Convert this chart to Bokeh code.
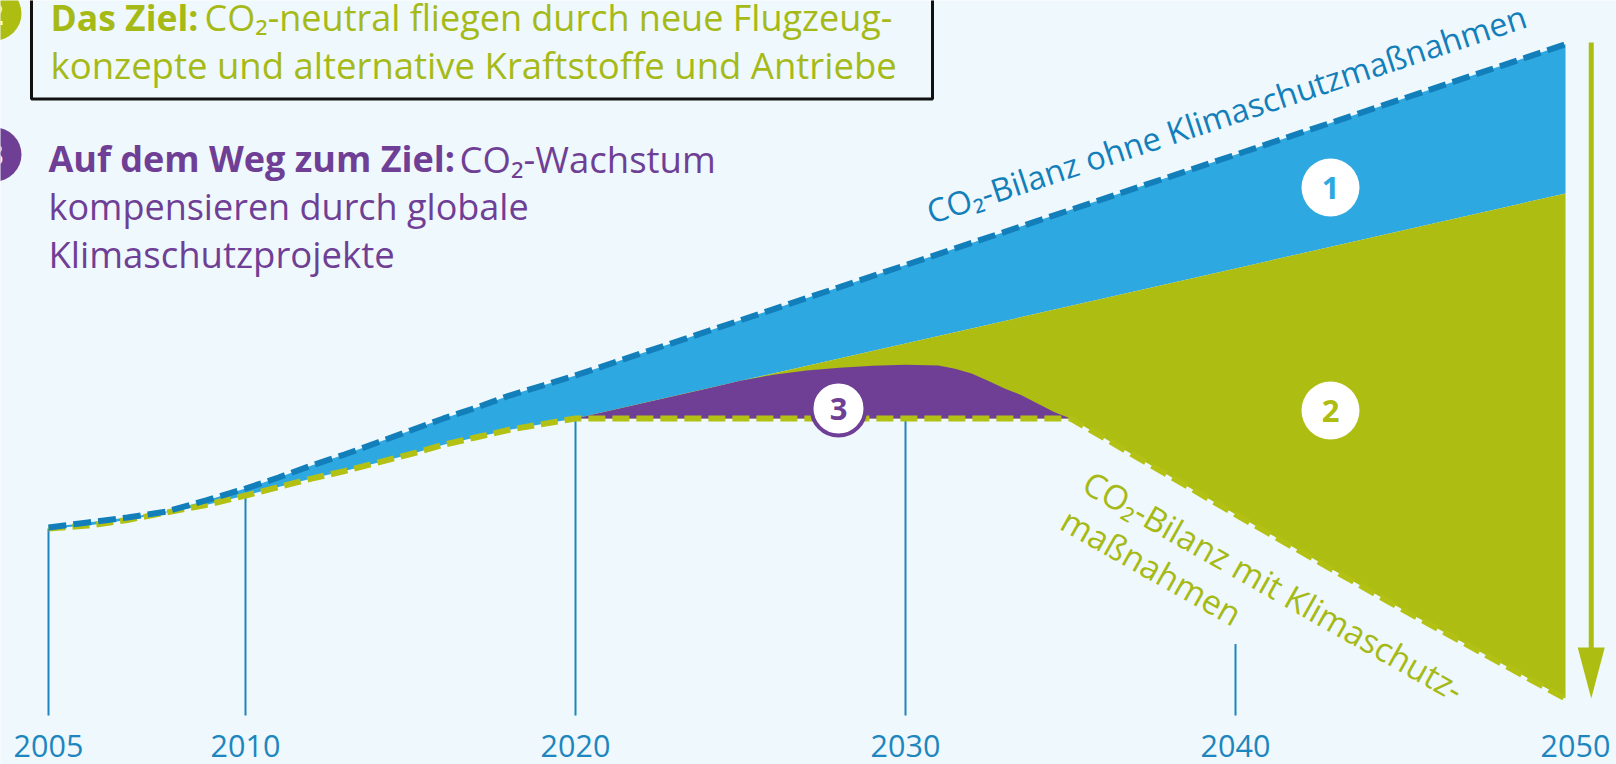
import numpy as np
from bokeh.plotting import figure
from bokeh.models import Range1d, Label, BoxAnnotation
from bokeh.core.properties import value
from bokeh.embed import file_html
from bokeh.resources import INLINE

# ---------------- data (relative CO2 index, 2005 = 100) ----------------
line_years = [2005, 2006, 2007, 2008, 2009, 2010, 2011, 2012, 2013, 2014,
              2015, 2016, 2017, 2018, 2019, 2020, 2030, 2040, 2050]
co2_without = [100, 102.7, 105.3, 108.5, 114.4, 120.7, 126.6, 133.0, 138.8, 145.2,
               151.6, 158.0, 163.8, 170.2, 175.5, 180.9, 239.6, 298.3, 357.0]

with_years = [2005, 2006, 2007, 2008, 2009, 2010, 2011, 2012, 2013, 2014,
              2015, 2016, 2017, 2018, 2019, 2020, 2035, 2040, 2045, 2050]
co2_with = [99.5, 101, 104, 108, 112, 117, 121.5, 126, 130, 134.5,
            139, 144, 148, 152, 155, 158, 158, 107, 57, 9]

split_years = [2020, 2050]          # border between area 1 and area 2
split_values = [158, 277.7]

comp_years = [2020, 2022, 2024, 2025, 2026, 2027, 2028, 2029, 2030, 2031, 2031.5,
              2032, 2032.5, 2033, 2033.5, 2034, 2034.5, 2035]
comp_top = [158, 166, 174, 178, 181.3, 183.5, 185, 186, 186.6, 186.2, 184.5,
            181.9, 178, 174, 170.5, 166, 161.5, 158]

tick_years = [2005, 2010, 2020, 2030, 2040]
tick_tops = [99.5, 117, 158, 157, 38]
label_years = [2005, 2010, 2020, 2030, 2040, 2050]
tick_labels = ["2005", "2010", "2020", "2030", "2040", "2050"]

# ---------------- styling ----------------
BG = "#eff8fc"
BLUE_FILL = "#2ea8e0"
BLUE_LINE = "#137fba"
GREEN_FILL = "#adbd12"
GREEN_LINE = "#b2c114"
GREEN_TXT = "#a6ba17"
PURPLE = "#6f3f96"
TICK = "#1d86be"
FONT = "Open Sans"

W, H = 1616, 764
PX_PER_YEAR = 33.0
UNIT_PX = 1.88
BASE_PX = 715       # page y of value 0
X_START = 2010 - 245 / PX_PER_YEAR
X_END = X_START + W / PX_PER_YEAR
Y_END = BASE_PX / UNIT_PX
Y_START = Y_END - H / UNIT_PX


def px_x(px):
    return X_START + px / PX_PER_YEAR


def px_y(py):
    return Y_END - py / UNIT_PX


def axis_pos(years):
    # the 2005-2010 span of the axis is drawn slightly wider than later spans
    return list(np.interp(years, [2005, 2010, 2050], [px_x(48), 2010, 2050]))


p = figure(width=W, height=H, x_range=Range1d(X_START, X_END),
           y_range=Range1d(Y_START, Y_END), output_backend="svg",
           toolbar_location=None, min_border=0, x_axis_location=None,
           y_axis_location=None, background_fill_color=BG,
           border_fill_color=BG, outline_line_color=None)
p.grid.visible = False

# ---- area 1 (blue) ----
n_hist = with_years.index(2020) + 1
blue_x = line_years + split_years[::-1] + with_years[:n_hist][::-1]
blue_y = co2_without + split_values[::-1] + co2_with[:n_hist][::-1]
p.patch(axis_pos(blue_x), blue_y, fill_color=BLUE_FILL, line_color=None)

# ---- area 2 (green) ----
green_x = split_years + with_years[n_hist - 1:][::-1]
green_y = split_values + co2_with[n_hist - 1:][::-1]
p.patch(axis_pos(green_x), green_y, fill_color=GREEN_FILL, line_color=None)

# ---- area 3 (purple) ----
purple_x = comp_years + [2035, 2020]
purple_y = comp_top + [co2_with[with_years.index(2035)], co2_with[with_years.index(2020)]]
p.patch(axis_pos(purple_x), purple_y, fill_color=PURPLE, line_color=None)

# ---- ticks ----
p.segment(x0=axis_pos(tick_years), y0=[0] * len(tick_years),
          x1=axis_pos(tick_years), y1=tick_tops, line_color=TICK, line_width=2)

# ---- dashed lines ----
p.line(axis_pos(with_years), co2_with, line_color=GREEN_LINE, line_width=6,
       line_dash="17 7")
p.line(axis_pos(line_years), co2_without, line_color=BLUE_LINE, line_width=6,
       line_dash="18 7")

# ---- tick labels ----
p.text(x=axis_pos(label_years), y=[px_y(745)] * len(label_years), text=tick_labels,
       text_font=value(FONT), text_font_size="30.5px", text_color=TICK,
       text_align="center", text_baseline="middle",
       x_offset=[0, 0, 0, 0, 0, 10])

# ---- arrow at 2050 ----
arrow_x = 2050 + 0.78
p.segment(x0=[arrow_x], y0=[px_y(42)], x1=[arrow_x], y1=[px_y(652)],
          line_color=GREEN_FILL, line_width=5)
half = 13.5 / PX_PER_YEAR
p.patch([arrow_x - half, arrow_x + half, arrow_x], [px_y(647), px_y(647), px_y(698)],
        fill_color=GREEN_FILL, line_color=None)

# ---- numbered badges ----
p.scatter(x=[px_x(1330), px_x(1330)], y=[px_y(187), px_y(410)], size=58,
          fill_color="white", line_color=None)
p.scatter(x=[px_x(838)], y=[px_y(408)], size=54, fill_color="white",
          line_color=PURPLE, line_width=4)
p.text(x=[px_x(1330), px_x(1330), px_x(838)], y=[px_y(187), px_y(410), px_y(408)],
       text=["1", "2", "3"], text_color=[BLUE_FILL, GREEN_FILL, PURPLE],
       text_font=value(FONT), text_font_style="bold", text_font_size="31px",
       text_align="center", text_baseline="middle")

# left-edge badges (cut off by the page edge in the original)
p.scatter(x=[px_x(-6), px_x(-6)], y=[px_y(13), px_y(154)], size=54,
          fill_color=[GREEN_FILL, PURPLE], line_color=None)
p.text(x=[px_x(-6), px_x(-6)], y=[px_y(13), px_y(154)], text=["2", "3"],
       text_color="white", text_font=value(FONT), text_font_style="bold",
       text_font_size="31px", text_align="center", text_baseline="middle")

# ---- line labels ----
ang_up = np.radians(18.3)
p.add_layout(Label(x=px_x(927), y=px_y(212), text="CO₂-Bilanz ohne Klimaschutzmaßnahmen",
                   angle=ang_up, text_font=FONT, text_font_size="32.5px",
                   text_color=BLUE_LINE, text_baseline="middle"))
ang_dn = -np.radians(29.5)
p.add_layout(Label(x=px_x(1086), y=px_y(479), text="CO₂-Bilanz mit Klimaschutz-",
                   angle=ang_dn, text_font=FONT, text_font_size="33.5px",
                   text_color=GREEN_TXT, text_baseline="middle"))
p.add_layout(Label(x=px_x(1064), y=px_y(516.5), text="maßnahmen",
                   angle=ang_dn, text_font=FONT, text_font_size="33.5px",
                   text_color=GREEN_TXT, text_baseline="middle"))

# ---- top-left explanation ----
p.add_layout(BoxAnnotation(left=px_x(31), right=px_x(932), top=px_y(-30),
                           bottom=px_y(98.5), fill_alpha=0, line_color="#111111",
                           line_alpha=1.0, line_width=3))
txt = dict(text_font=FONT, text_baseline="middle")
p.add_layout(Label(x=px_x(50), y=px_y(16.5), text="Das Ziel:", text_font_style="bold",
                   text_font_size="35.5px", text_color=GREEN_TXT, **txt))
p.add_layout(Label(x=px_x(204), y=px_y(16.5), text="CO₂-neutral fliegen durch neue Flugzeug-",
                   text_font_size="36px", text_color=GREEN_TXT, **txt))
p.add_layout(Label(x=px_x(50), y=px_y(64.5), text="konzepte und alternative Kraftstoffe und Antriebe",
                   text_font_size="36.5px", text_color=GREEN_TXT, **txt))
p.add_layout(Label(x=px_x(48), y=px_y(158), text="Auf dem Weg zum Ziel:", text_font_style="bold",
                   text_font_size="36px", text_color=PURPLE, **txt))
p.add_layout(Label(x=px_x(459), y=px_y(158), text="CO₂-Wachstum",
                   text_font_size="36.5px", text_color=PURPLE, **txt))
p.add_layout(Label(x=px_x(48), y=px_y(206), text="kompensieren durch globale",
                   text_font_size="36px", text_color=PURPLE, **txt))
p.add_layout(Label(x=px_x(48), y=px_y(253), text="Klimaschutzprojekte",
                   text_font_size="36.5px", text_color=PURPLE, **txt))

open("out.html", "w").write(file_html(p, INLINE))
